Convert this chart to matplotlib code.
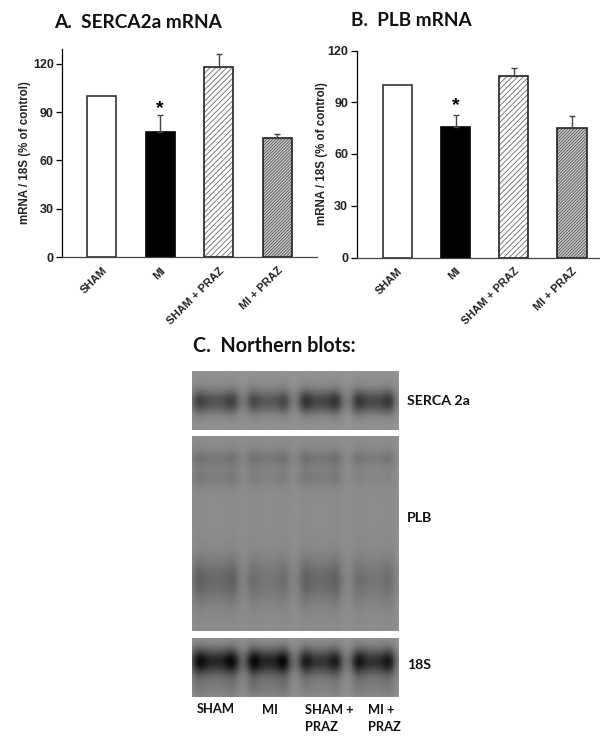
import matplotlib

matplotlib.use('Agg')
import matplotlib.pyplot as plt
import matplotlib.transforms as mtrans
import numpy as np

W, H = 600, 738

groups = ["SHAM", "MI", "SHAM + PRAZ", "MI + PRAZ"]
serca_values = [100, 78, 118, 74]
serca_err = [0, 10.5, 8.5, 2.5]
plb_values = [100, 75.5, 105, 75]
plb_err = [0, 7, 5, 7]
serca_ticks = [0, 30, 60, 90, 120]
plb_ticks = [0, 30, 60, 90, 120]

# band darkness per lane
lane_centers = [23, 76, 128, 181]
lane_widths = [24, 22, 22, 22]
serca_band = [78, 70, 92, 88]
plb_upper = [26, 26, 28, 22]
plb_middle = [20, 14, 20, 8]
plb_lower = [42, 30, 42, 30]
s18_band = [132, 134, 114, 120]
s18_tail = [24, 28, 18, 22]

plt.rcParams['font.family'] = ['Liberation Sans', 'DejaVu Sans']
plt.rcParams['hatch.linewidth'] = 0.6

fig = plt.figure(figsize=(W / 100, H / 100), dpi=100)


def px_axes(x0, y0, x1, y1):
    return fig.add_axes([x0 / W, 1 - y1 / H, (x1 - x0) / W, (y1 - y0) / H])


def bar_panel(ax, values, err, ticks, xlim, ymax, star_y, ylab_x):
    x = np.arange(len(values))
    ax.bar(x[0], values[0], width=0.5, color="white", edgecolor="#333333", linewidth=1.2)
    ax.bar(x[1], values[1], width=0.5, color="black", edgecolor="black", linewidth=1.2)
    ax.bar(x[2], values[2], width=0.5, color="white", edgecolor="#666666", linewidth=0, hatch="//////")
    ax.bar(x[3], values[3], width=0.5, color="#cccccc", edgecolor="#555555", linewidth=0, hatch="///////////")
    ax.bar(x[2:], values[2:], width=0.5, fill=False, edgecolor="#222222", linewidth=1.2)
    ax.errorbar(x[1:], values[1:], yerr=[[0] * 3, err[1:]], fmt="none", ecolor="#444444",
                elinewidth=1.0, capsize=2, capthick=1.0, zorder=1)
    ax.set_xlim(*xlim)
    ax.set_ylim(0, ymax)
    ax.set_yticks(ticks)
    ax.set_xticks(x)
    ax.set_xticklabels(groups, rotation=45, ha="right", rotation_mode="anchor",
                       fontsize=8, fontweight="bold", color="#222222")
    shift = mtrans.ScaledTranslation(4 / 100, 0, fig.dpi_scale_trans)
    for lab in ax.get_xticklabels():
        lab.set_transform(lab.get_transform() + shift)
    ax.tick_params(axis="x", length=0, pad=6)
    ax.tick_params(axis="y", length=4, width=0.9, pad=2, labelsize=9, labelcolor="#222222")
    for lab in ax.get_yticklabels():
        lab.set_fontweight("bold")
    ax.set_ylabel("mRNA / 18S (% of control)", fontsize=8.3, fontweight="bold", color="#222222")
    ax.yaxis.set_label_coords(ylab_x, 0.5)
    ax.spines["top"].set_visible(False)
    ax.spines["right"].set_visible(False)
    ax.spines["left"].set_linewidth(0.9)
    ax.spines["bottom"].set_linewidth(0.9)
    ax.spines["bottom"].set_color("#444444")
    ax.patch.set_alpha(0)
    ax.text(1, star_y, "*", fontsize=14, fontweight="bold", ha="center", va="center")


ax_a = px_axes(62, 49, 317, 257)
bar_panel(ax_a, serca_values, serca_err, serca_ticks, (-0.68, 3.68), 129.3, 92, -0.12)
ax_b = px_axes(356.5, 50.5, 600, 257.5)
bar_panel(ax_b, plb_values, plb_err, plb_ticks, (-0.70, 3.48), 120, 88, -0.117)


def lane_profile(xx, center, width):
    d = np.abs(xx - center) / width
    body = 1 / (1 + d ** 8)
    edge = np.exp(-((np.abs(xx - center) - width * 0.68) / (width * 0.3)) ** 2)
    return body * (0.8 + 0.24 * edge)


def blot(ax, w, h, bands, base=150, lane_tone=6):
    yy, xx = np.mgrid[0:h, 0:w]
    img = np.full((h, w), float(base))
    for c, lw in zip(lane_centers, lane_widths):
        img -= lane_tone * lane_profile(xx, c, lw + 2)
    for y0, sy, dark in bands:
        for c, lw, d in zip(lane_centers, lane_widths, dark):
            img -= d * lane_profile(xx, c, lw) * np.exp(-((yy - y0) / sy) ** 2)
    ax.imshow(img, cmap="gray", vmin=0, vmax=255, aspect="auto", interpolation="bilinear")
    ax.axis("off")


blot(px_axes(192, 371, 399, 430), 207, 59, [(30, 12, serca_band)], base=150)
blot(px_axes(192, 436, 399, 631), 207, 195, [(22, 9, plb_upper), (41, 10, plb_middle), (144, 24, plb_lower)], base=146)
blot(px_axes(192, 638, 399, 697), 207, 59, [(23, 13, s18_band), (47, 13, s18_tail)], base=150)

label_font = ['Lato', 'DejaVu Sans']


def label(x, y, s, size, **kw):
    fig.text(x / W, 1 - y / H, s, fontsize=size, fontweight="bold", family=label_font,
             va="center", color="#111111", **kw)


label(54, 22, "A.  SERCA2a mRNA", 13.7)
label(351, 20, "B.  PLB mRNA", 13.7)
label(193, 346, "C.  Northern blots:", 14.2)
label(407, 401, "SERCA 2a", 10.2)
label(407, 518, "PLB", 10.2)
label(407, 665, "18S", 10.2)
label(197, 709, "SHAM", 9.3)
label(262, 710, "MI", 9.3)
label(305, 710, "SHAM +", 9.3)
label(305, 727, "PRAZ", 9.3)
label(368, 710, "MI +", 9.3)
label(368, 727, "PRAZ", 9.3)

fig.savefig("out.png", dpi=100)
